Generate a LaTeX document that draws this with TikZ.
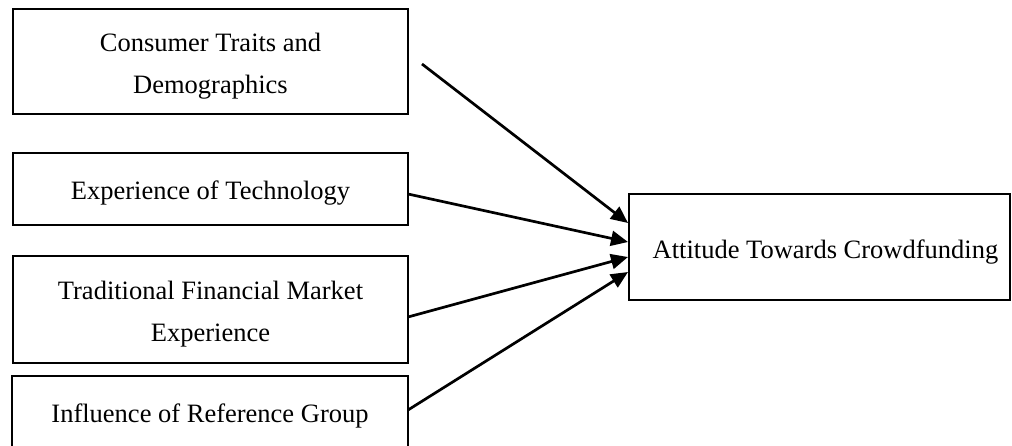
\documentclass[tikz,border=0pt]{standalone}
\usepackage{fontspec}
\setmainfont{Liberation Serif}
\usetikzlibrary{arrows.meta,calc}
\begin{document}
\begin{tikzpicture}[x=1pt,y=-1pt,
  box/.style={draw, line width=2.7pt, inner sep=0pt, outer sep=0pt},
  txt/.style={inner sep=0pt, align=center, font=\fontsize{26.5}{42}\selectfont},
  arr/.style={line width=2.7pt, -{Triangle[length=17pt,width=15pt]}}]
\useasboundingbox (0,0) rectangle (1012,445);
\clip (0,0) rectangle (1012,445);
\node[box, minimum width=395pt, minimum height=105pt] (c1) at (210.5,61.5) {};
\node[box, minimum width=395pt, minimum height=72pt] (c2) at (210.5,189) {};
\node[box, minimum width=395pt, minimum height=107pt] (c3) at (210.5,309.5) {};
\node[box, minimum width=396pt, minimum height=74pt] (c4) at (210,413) {};
\node[box, minimum width=381pt, minimum height=106pt] (att) at (819.5,247) {};
\node[txt] (t1) at ([yshift=-5pt]c1.center) {Consumer Traits and\\Demographics};
\node[txt] (t2) at ([yshift=-4pt]c2.center) {Experience of Technology};
\node[txt] (t3) at ([yshift=-5pt]c3.center) {Traditional Financial Market\\Experience};
\node[txt] (t4) at ([yshift=-3pt]c4.center) {Influence of Reference Group};
\node[txt] (ta) at ([yshift=-5pt,xshift=6pt]att.center) {Attitude Towards Crowdfunding};
\draw[arr] ([xshift=14pt,yshift=-2.5pt]c1.east) -- ([xshift=-1pt,yshift=24pt]att.west);
\draw[arr] ([yshift=-5pt]c2.east) -- ([xshift=-1pt,yshift=5pt]att.west);
\draw[arr] ([yshift=-7.5pt]c3.east) -- ([xshift=-1pt,yshift=-10pt]att.west);
\draw[arr] ([yshift=3pt]c4.east) -- ([xshift=-1pt,yshift=-25pt]att.west);
\end{tikzpicture}
\end{document}
